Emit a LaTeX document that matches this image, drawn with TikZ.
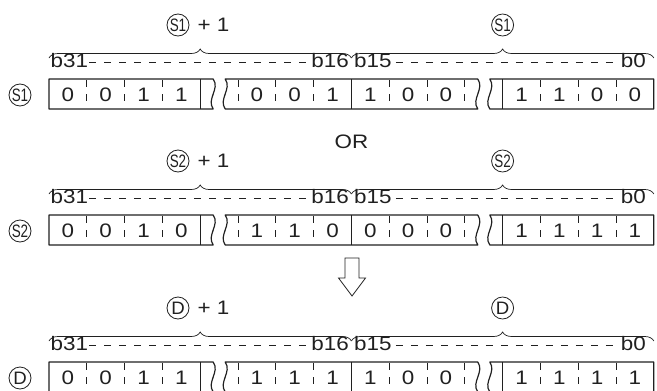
\documentclass[tikz,border=0pt]{standalone}
\usepackage{fontspec}
\setmainfont{Liberation Sans}[FakeStretch=1.15]
\usepackage{graphicx}
\usetikzlibrary{positioning, decorations.pathreplacing}
\definecolor{ink}{HTML}{202020}

\tikzset{
    boxline/.style={draw=ink, line width=1.2pt, line join=round},
    nibline/.style={draw=ink, line width=0.9pt},
    bitline/.style={draw=ink, line width=0.7pt, dash pattern=on 7pt off 7pt},
    labeldash/.style={draw=ink, line width=0.7pt, dash pattern=on 7pt off 8pt},
    bit/.style={font=\fontsize{19.5}{22}\selectfont, text=ink, inner sep=0pt},
    bitno/.style={font=\fontsize{19.5}{22}\selectfont, text=ink, inner sep=0pt},
    csym/.style={circle, draw=ink, line width=0.8pt, inner sep=0pt, minimum size=22pt,
        font=\fontsize{18}{20}\selectfont, text=ink},
    wordbrace/.style={draw=ink, line width=0.7pt, decorate, decoration={brace, amplitude=9pt}},
}

\begin{document}
\begin{tikzpicture}[x=1pt, y=-1pt]
    \useasboundingbox (0,0) rectangle (657,391);
    % one row per operand: box top, symbol, squeeze, bits
    \foreach \T/\sym/\sx/\bits [count=\r] in {
            79/S1/.65/{0,0,1,1,0,0,1,1,0,0,1,1,0,0},
            215/S2/.65/{0,0,1,0,1,1,0,0,0,0,1,1,1,1},
            362/D/.9/{0,0,1,1,1,1,1,1,0,0,1,1,1,1}}{
        % box in three pieces, cut by the breaks
        \draw[boxline] (213.2,\T) -- (49,\T) -- (49,\T+30) -- (213.2,\T+30)
            .. controls (206.2,\T+20) and (220.2,\T+10) .. cycle;
        \draw[boxline] (225.2,\T) -- (477.8,\T)
            .. controls (484.8,\T+10) and (470.8,\T+20) .. (477.8,\T+30) -- (225.2,\T+30)
            .. controls (218.2,\T+20) and (232.2,\T+10) .. cycle;
        \draw[boxline] (489.8,\T) -- (653.8,\T) -- (653.8,\T+30) -- (489.8,\T+30)
            .. controls (482.8,\T+20) and (496.8,\T+10) .. cycle;
        \foreach \k in {1,...,15}{
            \pgfmathtruncatemacro\solid{mod(\k,4)==0}
            \ifnum\solid=1
                \draw[nibline] (49+37.8*\k,\T) -- ++(0,30);
            \else
                \draw[bitline] (49+37.8*\k,\T+1) -- ++(0,21);
            \fi
        }
        \foreach \b [count=\i] in \bits{
            \pgfmathsetmacro\cx{49+37.8*(\i-0.5+(\i>4)+(\i>10))}
            \node[bit] (d\r-\i) at (\cx,\T+16) {\b};
        }
        % bit numbers
        \node[bitno, anchor=base west] (hi\r) at (50.5,\T-12) {b31};
        \node[bitno, anchor=base east] (mh\r) at (349,\T-12) {b16};
        \node[bitno, anchor=base west] (ml\r) at (354,\T-12) {b15};
        \node[bitno, anchor=base east] (lo\r) at (646,\T-12) {b0};
        \draw[labeldash] ([yshift=4.5pt,xshift=1pt]hi\r.base east) -- ([yshift=4.5pt,xshift=-2pt]mh\r.base west);
        \draw[labeldash] ([yshift=4.5pt,xshift=4pt]ml\r.base east) -- ([yshift=4.5pt,xshift=-3pt]lo\r.base west);
        % braces and word names
        \coordinate (bl\r) at (49,\T-21);
        \coordinate (bm\r) at (351.4,\T-21);
        \coordinate (br\r) at (653.8,\T-21);
        \draw[wordbrace] (bl\r) -- (bm\r);
        \draw[wordbrace] (bm\r) -- (br\r);
        \node[csym] (up\r) at (178,\T-54) {\scalebox{\sx}[1]{\sym}};
        \node[bitno, right=8pt of up\r] (plus\r) {+ 1};
        \node[csym] (low\r) at (502.6,\T-54) {\scalebox{\sx}[1]{\sym}};
        \node[csym] (sym\r) at (20,\T+16) {\scalebox{\sx}[1]{\sym}};
    }
    \node[bitno] (or) at (351.4,142) {OR};
    % hollow arrow
    \draw[draw=ink, line width=0.8pt, line join=miter] (345,258) -- (359,258) -- (359,278)
        -- (365.5,278) -- (352,296) -- (338.5,278) -- (345,278) -- cycle;
\end{tikzpicture}
\end{document}
